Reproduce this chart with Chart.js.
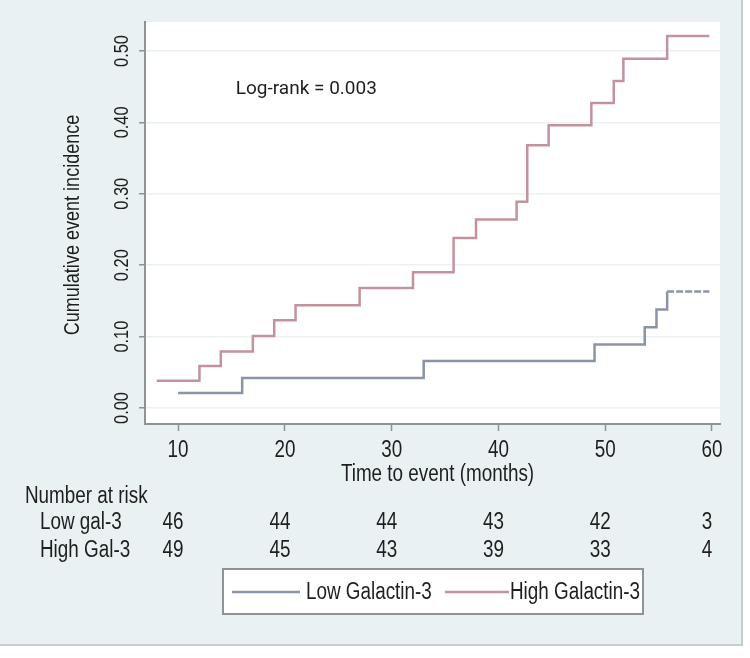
<!DOCTYPE html>
<html>
<head>
<meta charset="utf-8">
<script src="https://cdn.jsdelivr.net/npm/chart.js@4.4.0/dist/chart.umd.min.js"></script>
<style>
  html, body { margin: 0; padding: 0; background: #fff; }
  #wrap { width: 750px; height: 658px; }
</style>
</head>
<body>
<div id="wrap"><canvas id="kmChart" width="750" height="658"></canvas></div>
<script>
// step curves: time of each jump (months) and the cumulative incidence after it
var lowTimes = [10, 16, 33, 49, 53.7, 54.8, 55.8, 59.75];
var lowValues = [0.021, 0.042, 0.066, 0.089, 0.113, 0.138, 0.163, 0.163];
var highTimes = [8, 12, 14, 17, 19, 21, 27, 32, 35.8, 37.9, 41.7, 42.7, 44.7, 48.7, 50.8, 51.7, 55.8, 59.75];
var highValues = [0.038, 0.059, 0.079, 0.101, 0.123, 0.144, 0.168, 0.190, 0.238, 0.264, 0.289, 0.368, 0.396, 0.427, 0.458, 0.489, 0.521, 0.521];

var xTicks = [10, 20, 30, 40, 50, 60];
var yTicks = [0, 0.1, 0.2, 0.3, 0.4, 0.5];
var yTickLabels = ["0.00", "0.10", "0.20", "0.30", "0.40", "0.50"];

// number at risk table
var riskTimes = [10, 20, 30, 40, 50, 60];
var lowAtRisk = [46, 44, 44, 43, 42, 3];
var highAtRisk = [49, 45, 43, 39, 33, 4];

var seriesNames = ["Low Galactin-3", "High Galactin-3"];
var lowColor = "#8b94a7";
var highColor = "#c2939c";
var textColor = "#1e1e1e";

function toPoints(times, values) {
  return times.map(function (t, i) {
    return { x: t, y: values[i] };
  });
}

// no narrow font installed, so squeeze Liberation Sans sideways
function narrowText(ctx, text, x, y, size, align, rotated) {
  ctx.save();
  ctx.translate(x, y);
  if (rotated) ctx.rotate(-Math.PI / 2);
  ctx.scale(0.82, 1);
  ctx.font = size + 'px "Liberation Sans", Arial, sans-serif';
  ctx.textAlign = align;
  ctx.textBaseline = "middle";
  ctx.fillStyle = textColor;
  ctx.fillText(text, 0, 0);
  ctx.restore();
}

var extras = {
  id: "extras",
  beforeDraw: function (chart) {
    var ctx = chart.ctx;
    var area = chart.chartArea;
    ctx.save();
    ctx.fillStyle = "#ffffff";
    ctx.fillRect(0, 0, chart.width, chart.height);
    ctx.fillStyle = "#e9f1f3";
    ctx.fillRect(0, 0, 742, 645);
    ctx.strokeStyle = "#c6ced1";
    ctx.lineWidth = 2;
    ctx.beginPath();
    ctx.moveTo(742, 0);
    ctx.lineTo(742, 645);
    ctx.lineTo(0, 645);
    ctx.stroke();
    ctx.fillStyle = "#ffffff";
    ctx.fillRect(area.left, area.top, area.right - area.left, area.bottom - area.top);
    ctx.restore();
  },
  afterDraw: function (chart) {
    var ctx = chart.ctx;
    var xs = chart.scales.x;
    var ys = chart.scales.y;
    var area = chart.chartArea;

    // axis labels
    yTicks.forEach(function (v, i) {
      narrowText(ctx, yTickLabels[i], 122, ys.getPixelForValue(v), 20, "center", true);
    });
    xTicks.forEach(function (v) {
      narrowText(ctx, String(v), xs.getPixelForValue(v), 451, 23, "center", false);
    });
    narrowText(ctx, "Cumulative event incidence", 73, (area.top + area.bottom) / 2 + 2, 22, "center", true);
    narrowText(ctx, "Time to event (months)", (area.left + area.right) / 2 + 5, 475, 23, "center", false);

    // log-rank note
    ctx.save();
    ctx.font = '19px Roboto, "Liberation Sans", sans-serif';
    ctx.fillStyle = textColor;
    ctx.textAlign = "left";
    ctx.textBaseline = "middle";
    ctx.fillText("Log-rank = 0.003", xs.getPixelForValue(15.4), ys.getPixelForValue(0.446));
    ctx.restore();

    // number at risk
    narrowText(ctx, "Number at risk", 25, 497, 23, "left", false);
    narrowText(ctx, "Low gal-3", 40, 523, 23, "left", false);
    narrowText(ctx, "High Gal-3", 40, 551, 23, "left", false);
    riskTimes.forEach(function (t, i) {
      var px = xs.getPixelForValue(t) - 5;
      narrowText(ctx, String(lowAtRisk[i]), px, 523, 23, "center", false);
      narrowText(ctx, String(highAtRisk[i]), px, 551, 23, "center", false);
    });

    // legend box
    ctx.save();
    ctx.fillStyle = "#ffffff";
    ctx.fillRect(223, 569, 420, 45);
    ctx.strokeStyle = "#8e9396";
    ctx.lineWidth = 2;
    ctx.strokeRect(223, 569, 420, 45);
    ctx.lineWidth = 2.5;
    ctx.strokeStyle = lowColor;
    ctx.beginPath();
    ctx.moveTo(232, 592);
    ctx.lineTo(300, 592);
    ctx.stroke();
    ctx.strokeStyle = highColor;
    ctx.beginPath();
    ctx.moveTo(445, 592);
    ctx.lineTo(509, 592);
    ctx.stroke();
    ctx.restore();
    narrowText(ctx, seriesNames[0], 306, 593, 23, "left", false);
    narrowText(ctx, seriesNames[1], 510, 593, 23, "left", false);
  }
};

var lastLow = lowTimes.length - 1;

new Chart(document.getElementById("kmChart"), {
  type: "line",
  data: {
    datasets: [
      {
        label: seriesNames[0],
        data: toPoints(lowTimes, lowValues),
        borderColor: lowColor,
        borderWidth: 2.5,
        pointRadius: 0,
        stepped: "before",
        fill: false,
        segment: {
          borderDash: function (c) {
            return c.p1DataIndex === lastLow ? [7, 2] : undefined;
          },
        },
      },
      {
        label: seriesNames[1],
        data: toPoints(highTimes, highValues),
        borderColor: highColor,
        borderWidth: 2.5,
        pointRadius: 0,
        stepped: "before",
        fill: false,
      },
    ],
  },
  options: {
    responsive: false,
    animation: false,
    layout: {
      padding: { left: 0, top: 22, right: 30, bottom: 170 },
    },
    plugins: {
      legend: { display: false },
      tooltip: { enabled: false },
    },
    scales: {
      x: {
        type: "linear",
        min: 6.9,
        max: 60.75,
        afterBuildTicks: function (scale) {
          scale.ticks = xTicks.map(function (v) { return { value: v }; });
        },
        afterFit: function (scale) {
          scale.height = 64;
        },
        grid: {
          drawOnChartArea: false,
          drawTicks: true,
          tickLength: 7,
          tickColor: "#8e9396",
          tickWidth: 1.5,
        },
        border: { display: true, color: "#8e9396", width: 2 },
        ticks: { display: false },
      },
      y: {
        type: "linear",
        min: -0.0224,
        max: 0.5406,
        afterBuildTicks: function (scale) {
          scale.ticks = yTicks.map(function (v) { return { value: v }; });
        },
        afterFit: function (scale) {
          scale.width = 145;
        },
        grid: {
          color: "#eef1f2",
          lineWidth: 1.5,
          drawTicks: true,
          tickLength: 6,
          tickColor: "#8e9396",
          tickWidth: 1.5,
        },
        border: { display: true, color: "#8e9396", width: 2 },
        ticks: { display: false },
      },
    },
  },
  plugins: [extras],
});
</script>
</body>
</html>
